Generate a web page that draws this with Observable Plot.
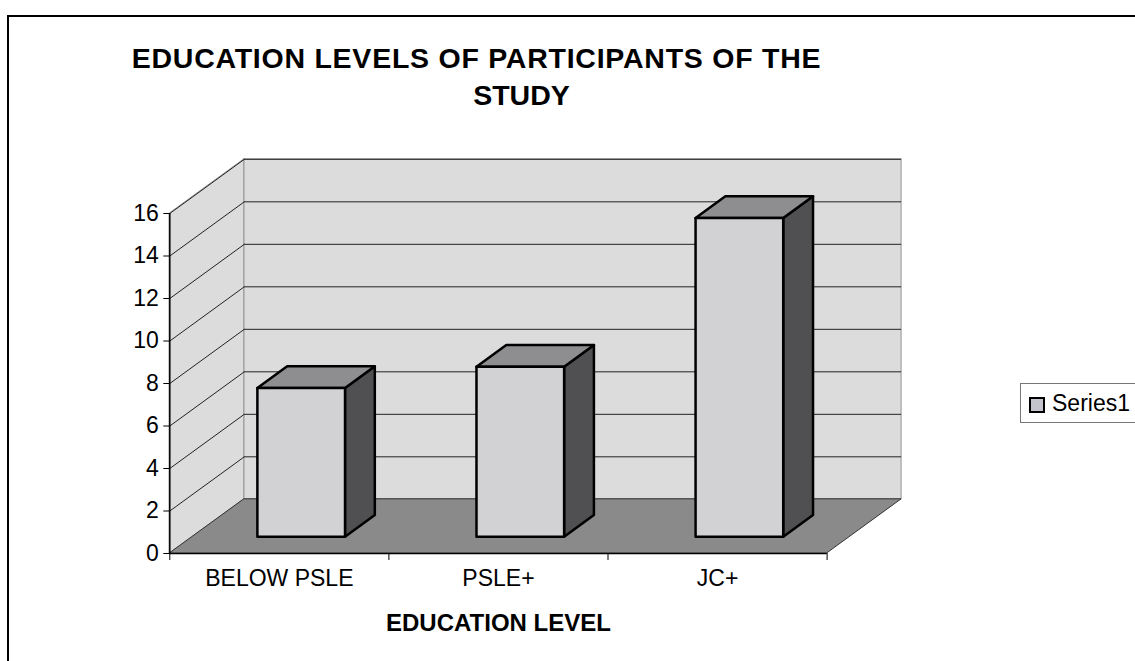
<!DOCTYPE html>
<html>
<head>
<meta charset="utf-8">
<script src="https://cdn.jsdelivr.net/npm/d3@7"></script>
<script src="https://cdn.jsdelivr.net/npm/@observablehq/plot@0.6"></script>
<style>
  html, body { margin: 0; padding: 0; background: #fff; }
  #page { position: relative; width: 1135px; height: 661px; overflow: hidden;
          font-family: "Liberation Sans", Arial, sans-serif; color: #000; }
  #border { position: absolute; left: 7px; top: 15px; width: 1150px; height: 700px;
            border: 2px solid #000; box-sizing: border-box; }
  #chart { position: absolute; left: 0; top: 0; }
  .title { position: absolute; width: 800px; text-align: center; line-height: 0;
           font-weight: bold; font-size: 28.5px; white-space: nowrap; }
  #title1 { letter-spacing: 0.75px; }
  #legend { position: absolute; left: 1020px; top: 383px; width: 140px; height: 40px;
            border: 1px solid #777; background: #fff; box-sizing: border-box; }
  #legend .swatch { position: absolute; left: 8px; top: 13px; width: 16px; height: 16px;
                    border: 2px solid #000; box-sizing: border-box; background: #c4c4cc; }
  #legend .label { position: absolute; left: 31px; top: 19px; line-height: 0; font-size: 23px; white-space: nowrap; }
</style>
</head>
<body>
<div id="page">
  <div id="border"></div>
  <div id="chart"></div>
  <div class="title" id="title1"></div>
  <div class="title" id="title2"></div>
  <div id="legend"><div class="swatch"></div><div class="label" id="legendLabel"></div></div>
</div>
<script>
// Participants by education level
const categories = ["BELOW PSLE", "PSLE+", "JC+"];
const values = [7, 8, 15];
const yTicks = [0, 2, 4, 6, 8, 10, 12, 14, 16];
const seriesName = "Series1";
const titleLines = ["EDUCATION LEVELS OF PARTICIPANTS OF THE", "STUDY"];
const xTitle = "EDUCATION LEVEL";

// Oblique 3-D projection expressed in data units:
// a point at depth d (0 = front, 1 = back) shifts by d*kx bands and d*ky value units.
const n = categories.length;
const yMax = 16;
const kx = 0.34;
const ky = 2.55;
const bx0 = 0.3, bx1 = 0.7;   // bar extent inside its band
const dz0 = 0.3, dz1 = 0.7;   // bar extent in depth

// Layout of the plotting frame (front plane origin and scale)
const W = 1135, H = 661;
const x0px = 169.3, bandPx = 219.1;
const y0px = 553, unitPx = 21.25;
const marginLeft = x0px;
const marginRight = W - (x0px + (n + kx) * bandPx);
const marginBottom = H - y0px;
const marginTop = y0px - (yMax + ky) * unitPx;

const bars = categories.map((c, i) => ({c, i, v: values[i]}));
const frontRows = bars;
const topRows = bars.flatMap(b => [dz0, dz1].map(dz => ({
  c: b.c, y: b.v + dz * ky, x1: b.i + bx0 + dz * kx, x2: b.i + bx1 + dz * kx
})));
const sideRows = bars.flatMap(b => [dz0, dz1].map(dz => ({
  c: b.c, x: b.i + bx1 + dz * kx, y1: dz * ky, y2: b.v + dz * ky
})));

const wallFill = "#dcdcdc";
const floorFill = "#8a8a8a";
const gridStroke = "#222";
const barFront = "#d2d2d4";
const barTop = "#8e8e90";
const barSide = "#505052";

const chart = Plot.plot({
  width: W,
  height: H,
  marginLeft, marginRight, marginTop, marginBottom,
  style: {fontFamily: "'Liberation Sans', Arial, sans-serif", fontSize: "23px", background: "transparent", color: "#000", overflow: "visible"},
  x: {type: "linear", domain: [0, n + kx], axis: null},
  y: {type: "linear", domain: [0, yMax + ky], axis: null},
  marks: [
    // back wall
    Plot.rect([0], {x1: () => kx, x2: () => n + kx, y1: () => ky, y2: () => yMax + ky,
      fill: wallFill, stroke: "#808080", strokeWidth: 0.8}),
    // side wall
    Plot.areaY([{x: 0, y1: 0, y2: yMax}, {x: kx, y1: ky, y2: yMax + ky}],
      {x: "x", y1: "y1", y2: "y2", fill: wallFill, stroke: "#808080", strokeWidth: 0.8}),
    // floor
    Plot.areaX([{y: 0, x1: 0, x2: n}, {y: ky, x1: kx, x2: n + kx}],
      {y: "y", x1: "x1", x2: "x2", fill: floorFill, stroke: "#333", strokeWidth: 1}),
    // gridlines on the back wall
    Plot.ruleY(yTicks.filter(t => t > 0), {y: t => t + ky, x1: () => kx, x2: () => n + kx, stroke: gridStroke, strokeWidth: 1}),
    // gridlines on the side wall
    Plot.link(yTicks.filter(t => t > 0), {x1: () => 0, y1: t => t, x2: () => kx, y2: t => t + ky, stroke: gridStroke, strokeWidth: 1}),
    // axis lines
    Plot.ruleX([0], {y1: () => 0, y2: () => yMax, stroke: "#000", strokeWidth: 1.5}),
    Plot.ruleY([0], {x1: () => 0, x2: () => n, stroke: "#000", strokeWidth: 1.5}),
    // bars: side, top, front faces
    Plot.areaY(sideRows, {x: "x", y1: "y1", y2: "y2", z: "c", fill: barSide, stroke: "#000", strokeWidth: 2.5, strokeLinejoin: "round"}),
    Plot.areaX(topRows, {y: "y", x1: "x1", x2: "x2", z: "c", fill: barTop, stroke: "#000", strokeWidth: 2.5, strokeLinejoin: "round"}),
    Plot.rect(frontRows, {
      x1: d => d.i + bx0 + dz0 * kx, x2: d => d.i + bx1 + dz0 * kx,
      y1: () => dz0 * ky, y2: d => d.v + dz0 * ky,
      fill: barFront, stroke: "#000", strokeWidth: 2.5, strokeLinejoin: "round"
    }),
    // value axis
    Plot.axisY({ticks: yTicks, tickSize: 6, tickPadding: 5, label: null, fontSize: 23}),
    // category axis: boundary ticks and centred labels
    Plot.axisX({ticks: d3.range(n + 1), tickSize: 7, tickFormat: () => "", label: null}),
    Plot.axisX({ticks: categories.map((_, i) => i + 0.5), tickSize: 0, tickPadding: 16.5,
      tickFormat: t => categories[Math.floor(t)], label: null, fontSize: 23}),
    // axis title
    Plot.text([xTitle], {x: () => n / 2, frameAnchor: "bottom", dy: 70, text: d => d,
      fontSize: 24, fontWeight: "bold", lineAnchor: "middle"})
  ]
});
document.getElementById("chart").appendChild(chart);

const t1 = document.getElementById("title1");
t1.textContent = titleLines[0];
t1.style.left = (476.5 - 400) + "px";
t1.style.top = "58px";
const t2 = document.getElementById("title2");
t2.textContent = titleLines[1];
t2.style.left = (521.5 - 400) + "px";
t2.style.top = "94.5px";
document.getElementById("legendLabel").textContent = seriesName;
</script>
</body>
</html>
